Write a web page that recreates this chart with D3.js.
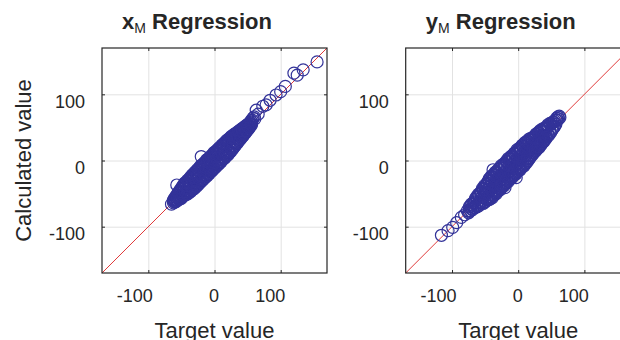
<!DOCTYPE html>
<html>
<head>
<meta charset="utf-8">
<script src="https://cdn.jsdelivr.net/npm/d3@7"></script>
<style>
    body { margin: 0; background: #fff; overflow: hidden; }
    text { font-family: "Liberation Sans", Arial, sans-serif; fill: #262626; }
    .grid line { stroke: #e2e2e2; stroke-width: 1; }
    .grid path { display: none; }
    .axis path { display: none; }
    .axis line { stroke: #262626; }
    .axis text { font-size: 18px; }
</style>
</head>
<body>
<script>

// axis setup shared by both panels
var axisRange = [-170, 170];
var tickValues = [-100, 0, 100];

// [target, calculated] for x_M
var xmPoints = [
    [-65,-66],[-62,-60],[-62,-64],[-61,-58],[-61,-62],[-60,-59],[-60,-63],[-59,-55],[-59,-61],[-58,-56],[-58,-62],
    [-57,-52],[-57,-60],[-56,-53],[-56,-60],[-55,-49],[-55,-57],[-54,-50],[-54,-59],[-53,-46],[-53,-56],
    [-52,-47],[-52,-58],[-51,-43],[-51,-55],[-50,-44],[-50,-57],[-49,-40],[-49,-54],[-48,-41],[-48,-54],
    [-47,-37],[-47,-51],[-46,-38],[-46,-53],[-45,-34],[-45,-50],[-44,-35],[-44,-52],[-43,-33],[-43,-49],
    [-42,-34],[-42,-51],[-41,-30],[-41,-48],[-40,-31],[-40,-50],[-39,-29],[-39,-47],[-38,-30],[-38,-48],
    [-37,-26],[-37,-46],[-36,-27],[-36,-47],[-35,-25],[-35,-43],[-34,-22],[-34,-44],[-33,-24],[-33,-44],
    [-32,-21],[-32,-41],[-31,-21],[-31,-43],[-30,-18],[-30,-40],[-29,-20],[-29,-40],[-28,-17],[-28,-37],
    [-27,-17],[-27,-39],[-26,-14],[-26,-36],[-25,-14],[-25,-36],[-24,-15],[-24,-36],[-23,-11],[-23,-33],
    [-22,-12],[-22,-33],[-21,-8],[-21,-30],[-20,-9],[-20,-32],[-19,-9],[-19,-29],[-18,-6],[-18,-29],
    [-17,-8],[-17,-29],[-16,-5],[-16,-26],[-15,-3],[-15,-26],[-14,-4],[-14,-26],[-13,-2],[-13,-22],
    [-12,1],[-12,-23],[-11,-1],[-11,-23],[-10,2],[-10,-20],[-9,2],[-9,-20],[-8,1],[-8,-20],
    [-7,5],[-7,-17],[-6,4],[-6,-17],[-5,6],[-5,-14],[-4,8],[-4,-16],[-3,7],[-3,-13],[-2,9],[-2,-13],
    [-1,12],[-1,-11],[0,10],[0,-12],[1,13],[1,-9],[2,13],[2,-9],[3,12],[3,-9],[4,16],[4,-6],[5,15],[5,-6],
    [6,17],[6,-3],[7,19],[7,-5],[8,18],[8,-2],[9,20],[9,-2],[10,19],[10,-2],[11,23],[11,1],[12,22],[12,1],
    [13,24],[13,4],[14,26],[14,3],[15,24],[15,5],[16,27],[16,4],[17,27],[17,8],[18,30],[18,7],[19,28],[19,9],
    [20,31],[20,8],[21,31],[21,12],[22,33],[22,11],[23,32],[23,13],[24,34],[24,13],[25,36],[25,16],[26,35],[26,16],
    [27,37],[27,19],[28,36],[28,18],[29,39],[29,20],[30,39],[30,22],[31,39],[31,22],[32,41],[32,25],[33,40],[33,25],
    [34,42],[34,27],[35,42],[35,27],[36,44],[36,30],[37,43],[37,30],[38,45],[38,32],[39,45],[39,32],[40,47],[40,35],
    [41,46],[41,35],[42,48],[42,37],[43,48],[43,37],[44,50],[44,40],[45,49],[45,40],[46,51],[46,42],[47,51],[47,42],
    [48,53],[48,45],[49,52],[49,45],[50,54],[50,47],[51,54],[51,47],[52,56],[52,50],[53,55],[53,50],[54,57],[54,52],
    [55,60],[55,54],[56,58],[56,54],[57,61],[58,64],
    [-50,-47],[-48,-51],[-46,-42],[-44,-47],[-42,-38],[-40,-43],[-38,-34],[-36,-39],[-34,-30],[-32,-35],
    [-30,-26],[-28,-31],[-26,-22],[-24,-27],[-22,-18],[-20,-23],[-18,-14],[-16,-19],[-14,-10],[-12,-15],
    [-10,-6],[-8,-11],[-6,-2],[-4,-7],[-2,2],[0,-3],[2,6],[4,1],[6,10],[8,5],[10,14],[12,9],[14,18],[16,13],
    [18,22],[20,17],[22,26],[24,21],[26,30],[28,25],[30,34],[32,29],[34,37],[36,33],[38,41],[40,37],
    [42,45],[44,41],[46,49],[48,45],[50,52],
    [60,66],[61,63],[63,76],[66,70],[73,82],[78,84],[84,91],[93,99],[100,104],[107,112],[120,132],[125,129],[134,137],[155,149],
    [-57,-37],[-20,6]
];

// [target, calculated] for y_M
var ymPoints = [
    [-116,-113],[-106,-106],[-99,-101],[-93,-94],[-86,-86],[-81,-82],[-77,-76],[-75,-79],
    [-74,-70],[-74,-77],[-72,-69],[-72,-76],[-71,-66],[-71,-73],[-69,-67],[-69,-74],[-68,-64],[-68,-71],[-66,-63],[-66,-71],
    [-65,-58],[-65,-71],[-63,-55],[-63,-68],[-62,-56],[-62,-70],[-60,-51],[-60,-66],[-59,-52],[-59,-68],[-57,-49],[-57,-64],[-56,-47],[-56,-64],
    [-54,-42],[-54,-54],[-54,-64],[-53,-43],[-53,-56],[-53,-65],[-51,-38],[-51,-49],[-51,-62],[-50,-39],[-50,-52],[-50,-63],
    [-48,-36],[-48,-45],[-48,-58],[-47,-34],[-47,-48],[-47,-59],[-45,-31],[-45,-44],[-45,-58],
    [-44,-28],[-44,-47],[-44,-59],[-42,-27],[-42,-38],[-42,-58],[-41,-24],[-41,-43],[-41,-55],[-39,-25],[-39,-36],[-39,-56],
    [-38,-14],[-38,-22],[-38,-38],[-38,-53],[-36,-21],[-36,-40],[-36,-52],[-35,-18],[-35,-33],[-35,-49],[-33,-17],[-33,-34],[-33,-50],
    [-32,-18],[-32,-27],[-32,-47],[-30,-13],[-30,-33],[-30,-46],[-29,-14],[-29,-27],[-29,-43],[-27,-11],[-27,-29],[-27,-44],
    [-26,-8],[-26,-22],[-26,-41],[-24,-9],[-24,-28],[-24,-40],[-23,-6],[-23,-22],[-23,-37],[-21,-5],[-21,-22],[-21,-38],
    [-20,-6],[-20,-17],[-20,-35],[-20,-41],[-18,-1],[-18,-21],[-18,-34],[-17,-2],[-17,-15],[-17,-31],[-15,3],[-15,-17],[-15,-32],
    [-14,2],[-14,-10],[-14,-29],[-12,3],[-12,-16],[-12,-28],[-11,6],[-11,-10],[-11,-25],[-9,7],[-9,-10],[-9,-26],
    [-8,6],[-8,-5],[-8,-23],[-6,11],[-6,-9],[-6,-22],[-5,10],[-5,-3],[-5,-19],[-3,13],[-3,-5],[-3,-20],[-3,-26],
    [-2,16],[-2,2],[-2,-17],[0,15],[0,-4],[0,-16],[1,18],[1,2],[1,-13],[3,19],[3,2],[3,-14],[4,18],[4,7],[4,-11],
    [6,23],[6,3],[6,-10],[7,22],[7,9],[7,-7],[9,25],[9,7],[9,-8],[10,27],[10,14],[10,-5],[12,27],[12,8],[12,-4],
    [13,29],[13,14],[13,-1],[15,29],[15,14],[15,0],[16,32],[16,19],[16,3],[18,33],[18,15],[18,4],[19,32],[19,21],[19,7],
    [21,33],[21,19],[21,8],[22,35],[22,23],[22,11],[24,35],[24,21],[24,12],[25,37],[25,27],[25,14],[27,40],[27,26],[27,15],
    [28,39],[28,31],[28,18],[30,42],[30,28],[30,19],[31,41],[31,32],[31,19],[33,45],[33,32],[33,23],[34,45],[34,36],[34,23],
    [36,46],[36,34],[36,26],[37,48],[37,38],[37,28],[39,48],[39,38],[39,29],
    [40,49],[40,32],[42,49],[42,33],[43,51],[43,36],[45,54],[45,39],[46,52],[46,38],[48,56],[48,42],[49,55],[49,42],
    [51,56],[51,46],[52,58],[52,48],[54,58],[54,50],[55,60],[55,52],[57,61],[57,55],
    [-60,-54],[-58,-63],[-56,-50],[-54,-60],[-52,-44],[-50,-58],[-48,-39],[-46,-56],[-44,-34],[-42,-52],
    [-40,-30],[-38,-48],[-36,-26],[-34,-45],[-32,-22],[-30,-41],[-28,-17],[-26,-37],[-24,-13],[-22,-33],
    [-20,-9],[-18,-29],[-16,-5],[-14,-25],[-12,-1],[-10,-21],[-8,3],[-6,-17],[-4,7],[-2,-13],[0,11],[2,-9],
    [4,15],[6,-5],[8,19],[10,-1],[12,23],[14,3],[16,27],[18,7],[20,30],[22,12],[24,34],[26,16],[28,37],[30,21],
    [32,41],[34,25],[36,44],[38,30],[40,47],[42,35],[44,50],
    [58,64],[59,61],[60,66],[61,63],[62,67],[63,65]
];

var panels = [
    {sym: 'x', points: xmPoints, left: 102, ylabel: true},
    {sym: 'y', points: ymPoints, left: 405.7, ylabel: false}
];

var plotTop = 48;
var size = 225;

var svg = d3.select('body')
    .append('svg')
    .attr('width', 620)
    .attr('height', 340);

function plainNum(d) { return String(d); }

panels.forEach(function(p) {
    var g = svg.append('g')
        .attr('transform', 'translate(' + p.left + ',' + plotTop + ')');

    var xScale = d3.scaleLinear().domain(axisRange).range([0, size]);
    var yScale = d3.scaleLinear().domain(axisRange).range([size, 0]);

    // grid
    g.append('g')
        .attr('class', 'grid')
        .attr('transform', 'translate(0,' + size + ')')
        .call(d3.axisBottom(xScale).tickValues(tickValues).tickSize(-size).tickFormat(''));
    g.append('g')
        .attr('class', 'grid')
        .call(d3.axisLeft(yScale).tickValues(tickValues).tickSize(-size).tickFormat(''));

    // y = x reference line
    g.append('line')
        .attr('x1', xScale(axisRange[0]))
        .attr('y1', yScale(axisRange[0]))
        .attr('x2', xScale(axisRange[1]))
        .attr('y2', yScale(axisRange[1]))
        .attr('stroke', '#e03a3a')
        .attr('stroke-width', 1);

    g.append('g')
        .selectAll('circle')
        .data(p.points)
        .enter()
        .append('circle')
        .attr('cx', function(d){ return xScale(d[0]); })
        .attr('cy', function(d){ return yScale(d[1]); })
        .attr('r', 6)
        .attr('fill', 'none')
        .attr('stroke', '#333399')
        .attr('stroke-width', 1.2);

    // axes, ticks pointing inward
    var bottom = g.append('g')
        .attr('class', 'axis')
        .attr('transform', 'translate(0,' + size + ')')
        .call(d3.axisBottom(xScale).tickValues(tickValues).tickSizeInner(-3).tickSizeOuter(0).tickFormat(plainNum));
    bottom.selectAll('text')
        .attr('y', 29)
        .attr('dy', null)
        .attr('x', 4)
        .attr('text-anchor', 'end');

    var leftAx = g.append('g')
        .attr('class', 'axis')
        .call(d3.axisLeft(yScale).tickValues(tickValues).tickSizeInner(-3).tickSizeOuter(0).tickFormat(plainNum));
    leftAx.selectAll('text')
        .attr('x', -17)
        .attr('y', 13)
        .attr('dy', null);

    g.append('g')
        .attr('class', 'axis')
        .call(d3.axisTop(xScale).tickValues(tickValues).tickSizeInner(-3).tickSizeOuter(0).tickFormat(''));
    g.append('g')
        .attr('class', 'axis')
        .attr('transform', 'translate(' + size + ',0)')
        .call(d3.axisRight(yScale).tickValues(tickValues).tickSizeInner(-3).tickSizeOuter(0).tickFormat(''));

    g.append('rect')
        .attr('width', size)
        .attr('height', size)
        .attr('fill', 'none')
        .attr('stroke', '#262626')
        .attr('stroke-width', 1.2);

    // title
    var title = g.append('text')
        .attr('x', 95)
        .attr('y', 29 - plotTop)
        .attr('text-anchor', 'middle')
        .style('font-size', '22px')
        .style('font-weight', 'bold');
    title.append('tspan').text(p.sym);
    title.append('tspan')
        .attr('dy', 4)
        .style('font-size', '14px')
        .style('font-weight', 'normal')
        .text('M');
    title.append('tspan')
        .attr('dy', -4)
        .text(' Regression');

    g.append('text')
        .attr('x', size / 2)
        .attr('y', 337.5 - plotTop)
        .attr('text-anchor', 'middle')
        .style('font-size', '22px')
        .text('Target value');

    if (p.ylabel) {
        g.append('text')
            .attr('transform', 'translate(' + (31 - p.left) + ',' + (size / 2) + ') rotate(-90)')
            .attr('text-anchor', 'middle')
            .style('font-size', '22px')
            .text('Calculated value');
    }
});

</script>
</body>
</html>
